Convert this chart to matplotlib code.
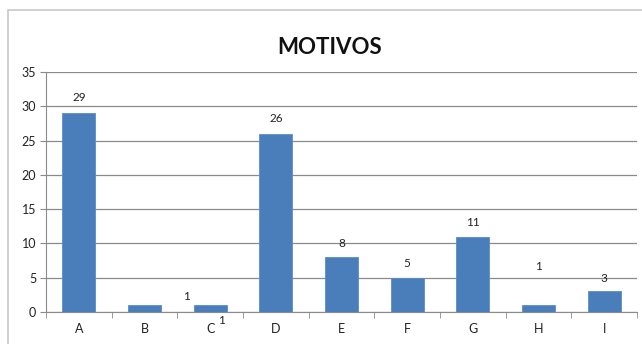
import numpy as np
import matplotlib.pyplot as plt
from matplotlib.patches import Rectangle

# Datos del gráfico
categorias = ["A", "B", "C", "D", "E", "F", "G", "H", "I"]
valores = [29, 1, 1, 26, 8, 5, 11, 1, 3]

# Etiquetas de valor: (categoria, texto, desplazamiento x, desplazamiento y en puntos)
etiquetas = [
    (0, "29", 0, 11),
    (2, "1", -17, 6),
    (2, "1", 8, -11),
    (3, "26", 0, 11),
    (4, "8", 0, 10),
    (5, "5", 0, 10),
    (6, "11", 0, 10),
    (7, "1", 0, 28),
    (8, "3", 0, 9),
]

plt.rcParams["font.family"] = ["Lato", "DejaVu Sans"]

fig = plt.figure(figsize=(6.42, 3.44), dpi=100)
fig.patches.append(Rectangle((8 / 642, -0.01), 1, 1 - 10 / 344 + 0.01, transform=fig.transFigure,
                             fill=False, edgecolor="#c8c8c8", linewidth=1.2))

ax = fig.add_axes([46 / 642, 1 - 312 / 344, (637 - 46) / 642, (312 - 72) / 344])
x = np.arange(len(categorias))
ax.bar(x, valores, width=0.5, color="#4a7ebb", edgecolor="#5a8ccb", linewidth=0.6, zorder=3)

ax.set_xlim(-0.5, len(categorias) - 0.5)
ax.set_ylim(0, 35)
ax.set_yticks(range(0, 36, 5))
ax.yaxis.grid(True, color="#8a8a8a", linewidth=0.9)
ax.set_axisbelow(True)

ax.set_xticks(x)
ax.set_xticklabels(categorias)
ax.set_xticks(np.arange(-0.5, len(categorias)), minor=True)
ax.tick_params(axis="x", which="major", length=0, pad=8, labelsize=9, labelcolor="#222222")
ax.tick_params(axis="x", which="minor", length=4, color="#8a8a8a", direction="out")
ax.tick_params(axis="y", length=4, color="#8a8a8a", labelsize=9, labelcolor="#222222", pad=3)

for lado in ["top", "right"]:
    ax.spines[lado].set_visible(False)
for lado in ["left", "bottom"]:
    ax.spines[lado].set_color("#8a8a8a")

for i, texto, dx, dy in etiquetas:
    ax.annotate(texto, (x[i], valores[i]), xytext=(dx, dy), textcoords="offset points",
                ha="center", va="center", fontsize=8.5, color="#222222")

fig.text(330 / 642, 1 - 48 / 344, "MOTIVOS", ha="center", va="center",
         fontsize=16, fontweight="bold", color="#111111")

plt.savefig("out.png", dpi=100)
